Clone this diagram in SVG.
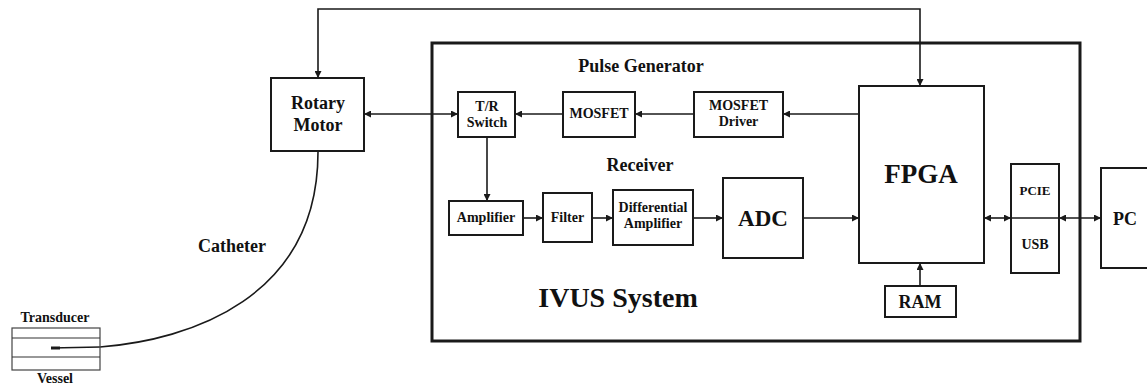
<svg xmlns="http://www.w3.org/2000/svg" width="1147" height="388" viewBox="0 0 1147 388">
<defs>
<marker id="ah" viewBox="0 0 10 10" refX="10" refY="5" markerWidth="7" markerHeight="7" markerUnits="userSpaceOnUse" orient="auto-start-reverse">
<path d="M0,0 L10,5 L0,10 z" fill="#1a1a1a"/>
</marker>
<style>
.box{fill:#fff;stroke:#1a1a1a;stroke-width:2}
.thin{fill:none;stroke:#333;stroke-width:1.2}
.ln{fill:none;stroke:#1a1a1a;stroke-width:1.6}
text{font-family:"Liberation Serif","Times New Roman",serif;font-weight:bold;fill:#111;text-anchor:middle}
.s14{font-size:14px}
.s18{font-size:18px}
</style>
</defs>
<rect width="1147" height="388" fill="#fff"/>

<g id="ivus-system">
<rect x="432" y="43" width="648" height="298" fill="none" stroke="#1a1a1a" stroke-width="3"/>
<text x="618" y="307" style="font-size:28px">IVUS System</text>
<text x="641" y="72" class="s18">Pulse Generator</text>
<text x="640" y="171" class="s18">Receiver</text>
</g>

<g id="connectors">
<path class="ln" d="M920,86 V9 H318 V78" marker-start="url(#ah)" marker-end="url(#ah)"/>
<line class="ln" x1="364" y1="114" x2="458" y2="114" marker-start="url(#ah)" marker-end="url(#ah)"/>
<line class="ln" x1="563" y1="114" x2="515" y2="114" marker-end="url(#ah)"/>
<line class="ln" x1="694" y1="114" x2="635" y2="114" marker-end="url(#ah)"/>
<line class="ln" x1="859" y1="114" x2="783" y2="114" marker-end="url(#ah)"/>
<line class="ln" x1="487" y1="137" x2="487" y2="201" marker-end="url(#ah)"/>
<line class="ln" x1="523" y1="218" x2="543" y2="218" marker-end="url(#ah)"/>
<line class="ln" x1="592" y1="218" x2="613" y2="218" marker-end="url(#ah)"/>
<line class="ln" x1="693" y1="218" x2="723" y2="218" marker-end="url(#ah)"/>
<line class="ln" x1="803" y1="218" x2="859" y2="218" marker-end="url(#ah)"/>
<line class="ln" x1="984" y1="218" x2="1011" y2="218" marker-start="url(#ah)" marker-end="url(#ah)"/>
<line class="ln" x1="1059" y1="218" x2="1101" y2="218" marker-start="url(#ah)" marker-end="url(#ah)"/>
<line class="ln" x1="920" y1="286" x2="920" y2="263" marker-end="url(#ah)"/>
<path class="ln" d="M100,347 C190,340 318,298 318,152"/>
<line x1="51" y1="348" x2="100" y2="347" stroke="#1a1a1a" stroke-width="1.6"/>
<line x1="51" y1="348" x2="60" y2="348" stroke="#1a1a1a" stroke-width="3"/>
</g>

<g id="rotary-motor">
<rect class="box" x="271" y="78" width="93" height="73"/>
<text x="318" y="109" class="s18">Rotary</text>
<text x="318" y="131" class="s18">Motor</text>
</g>

<g id="tr-switch">
<rect class="box" x="458" y="92" width="57" height="45"/>
<text x="487" y="111" class="s14">T/R</text>
<text x="487" y="127" class="s14">Switch</text>
</g>

<g id="mosfet">
<rect class="box" x="563" y="92" width="72" height="45"/>
<text x="599" y="118" class="s14">MOSFET</text>
</g>

<g id="mosfet-driver">
<rect class="box" x="694" y="92" width="89" height="45"/>
<text x="738.5" y="110" class="s14">MOSFET</text>
<text x="738.5" y="126" class="s14">Driver</text>
</g>

<g id="amplifier">
<rect class="box" x="449" y="201" width="74" height="34"/>
<text x="486" y="222" class="s14">Amplifier</text>
</g>

<g id="filter">
<rect class="box" x="543" y="193" width="49" height="49"/>
<text x="567.5" y="222" class="s14">Filter</text>
</g>

<g id="differential-amplifier">
<rect class="box" x="613" y="190" width="80" height="55"/>
<text x="653" y="212" class="s14">Differential</text>
<text x="653" y="228" class="s14">Amplifier</text>
</g>

<g id="adc">
<rect class="box" x="723" y="178" width="80" height="80"/>
<text x="763" y="226" style="font-size:23px">ADC</text>
</g>

<g id="fpga">
<rect class="box" x="859" y="86" width="125" height="177"/>
<text x="921" y="183" style="font-size:27px">FPGA</text>
</g>

<g id="ram">
<rect class="box" x="885" y="286" width="71" height="31"/>
<text x="920" y="308" class="s18">RAM</text>
</g>

<g id="pcie-usb">
<rect class="box" x="1011" y="164" width="48" height="109"/>
<line x1="1011" y1="218" x2="1059" y2="218" stroke="#1a1a1a" stroke-width="1.6"/>
<text x="1035" y="195" style="font-size:13px">PCIE</text>
<text x="1035" y="249" class="s14">USB</text>
</g>

<g id="pc">
<rect class="box" x="1101" y="168" width="60" height="100"/>
<text x="1125" y="225" class="s18">PC</text>
</g>

<g id="transducer">
<rect x="12" y="328" width="88" height="42" fill="none" stroke="#444" stroke-width="1.2"/>
<line class="thin" x1="12" y1="338" x2="100" y2="338"/>
<line class="thin" x1="12" y1="357" x2="100" y2="357"/>
<text x="55" y="322" class="s14">Transducer</text>
<text x="55" y="383" class="s14">Vessel</text>
</g>

<g id="catheter-label">
<text x="232" y="252" class="s18">Catheter</text>
</g>
</svg>
